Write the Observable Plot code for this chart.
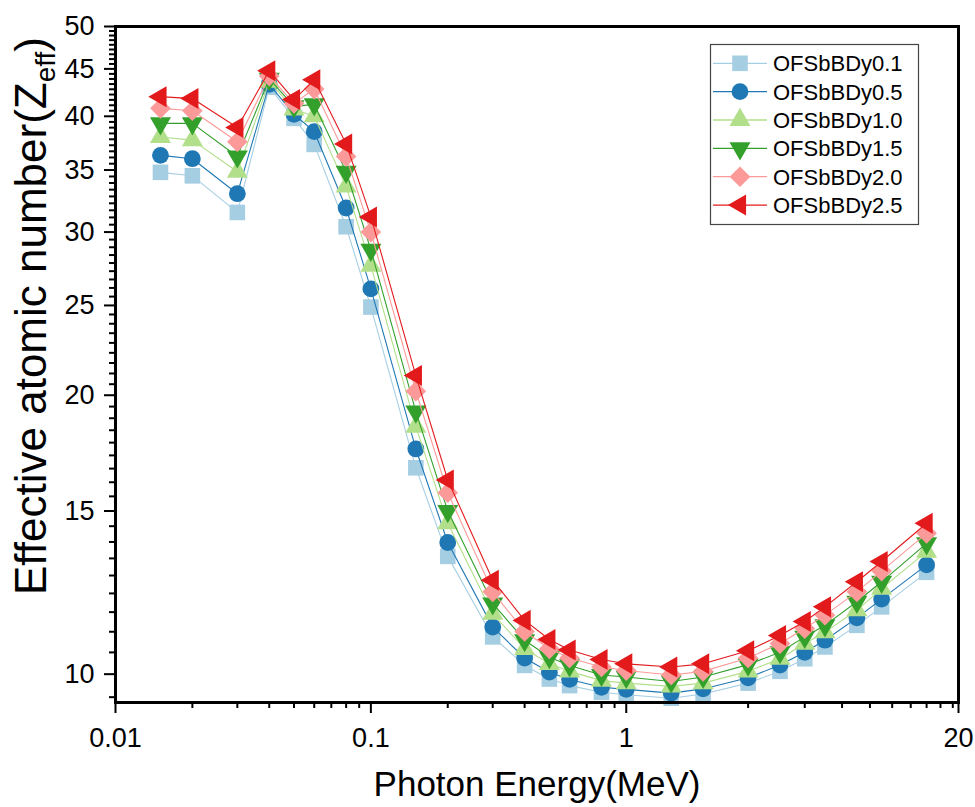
<!DOCTYPE html>
<html>
<head>
<meta charset="utf-8">
<script src="https://cdn.jsdelivr.net/npm/d3@7"></script>
<script src="https://cdn.jsdelivr.net/npm/@observablehq/plot@0.6"></script>
<style>
  html, body { margin: 0; padding: 0; background: #fff; }
  #chart { width: 975px; height: 807px; }
</style>
</head>
<body>
<div id="chart"></div>
<script>
// Photon energies (MeV)
const energies = [0.015, 0.02, 0.03, 0.04, 0.05, 0.06, 0.08, 0.1, 0.15, 0.2, 0.3, 0.4, 0.5, 0.6, 0.8, 1, 1.5, 2, 3, 4, 5, 6, 8, 10, 15];

// Effective atomic number for each glass
const zDy01 = [34.8, 34.5, 31.5, 43.0, 39.8, 37.3, 30.4, 24.9, 16.7, 13.4, 10.97, 10.22, 9.88, 9.72, 9.56, 9.50, 9.42, 9.52, 9.78, 10.07, 10.39, 10.70, 11.29, 11.82, 12.88];
const zDy05 = [36.3, 36.0, 33.0, 43.3, 40.2, 38.5, 31.85, 26.05, 17.5, 13.87, 11.24, 10.41, 10.05, 9.87, 9.68, 9.63, 9.54, 9.64, 9.91, 10.23, 10.56, 10.88, 11.5, 12.05, 13.12];
const zDy10 = [38.0, 37.7, 34.85, 43.6, 40.7, 40.0, 33.6, 27.6, 18.5, 14.55, 11.62, 10.65, 10.26, 10.07, 9.84, 9.78, 9.70, 9.78, 10.07, 10.39, 10.79, 11.1, 11.72, 12.37, 13.56];
const zDy15 = [39.3, 39.3, 36.2, 43.9, 41.0, 41.2, 34.85, 28.7, 19.2, 15.0, 11.92, 10.88, 10.43, 10.22, 9.98, 9.93, 9.82, 9.93, 10.24, 10.56, 10.97, 11.29, 11.97, 12.58, 13.84];
const zDy20 = [40.8, 40.55, 37.55, 44.2, 41.3, 42.8, 36.2, 30.0, 20.2, 15.7, 12.27, 11.12, 10.65, 10.41, 10.18, 10.09, 9.98, 10.07, 10.41, 10.79, 11.2, 11.58, 12.27, 12.92, 14.19];
const zDy25 = [42.0, 41.8, 38.9, 44.8, 41.7, 43.8, 37.35, 31.15, 21.0, 16.2, 12.63, 11.43, 10.9, 10.62, 10.37, 10.26, 10.18, 10.26, 10.6, 11.01, 11.40, 11.82, 12.58, 13.23, 14.55];

const seriesNames = ["OFSbBDy0.1", "OFSbBDy0.5", "OFSbBDy1.0", "OFSbBDy1.5", "OFSbBDy2.0", "OFSbBDy2.5"];
const seriesValues = [zDy01, zDy05, zDy10, zDy15, zDy20, zDy25];
const seriesColors = ["#a6cee3", "#1f78b4", "#b2df8a", "#33a02c", "#fb9a99", "#e31a1c"];
const seriesSymbols = ["square", "circle", "triangle", "triangle", "diamond2", "triangle"];
const seriesRotate = [0, 0, 0, 180, 0, -90];
const seriesR = [8.8, 8.4, 7.8, 7.8, 9.3, 7.8];

// Axis ticks
const xMajorTicks = [0.01, 0.1, 1, 20];
const xMinorTicks = [0.02, 0.03, 0.04, 0.05, 0.06, 0.07, 0.08, 0.09, 0.2, 0.3, 0.4, 0.5, 0.6, 0.7, 0.8, 0.9, 3, 5, 7, 9, 11, 13, 15, 17, 19];
const yMajorTicks = [10, 15, 20, 25, 30, 35, 40, 45, 50];
const yDomain = [9.32, 50];
const yMinorTicks = [];
for (let m = 5; m < 50; m += 5) {
  for (let k = 1; k <= 8; k++) {
    const v = m + k * 5 / 9;
    if (v >= yDomain[0] && v <= yDomain[1]) yMinorTicks.push(v);
  }
}

const rows = seriesNames.flatMap((name, i) =>
  energies.map((e, j) => ({series: name, energy: e, z: seriesValues[i][j]})));

const FONT = "'Liberation Sans', Arial, Helvetica, sans-serif";

const marks = [];
seriesNames.forEach((name, i) => {
  const d = rows.filter(r => r.series === name);
  marks.push(Plot.line(d, {x: "energy", y: "z", stroke: seriesColors[i], strokeWidth: 1.1}));
  marks.push(Plot.dot(d, {x: "energy", y: "z", symbol: seriesSymbols[i], r: seriesR[i], fill: seriesColors[i], stroke: "none", rotate: seriesRotate[i]}));
});

const svg = Plot.plot({
  width: 975,
  height: 807,
  marginLeft: 115,
  marginRight: 17,
  marginTop: 26,
  marginBottom: 105,
  style: {fontFamily: FONT, fontSize: "27px", background: "white", color: "black"},
  x: {type: "log", domain: [0.01, 20]},
  y: {type: "log", domain: yDomain},
  marks: [
    Plot.axisX(xMinorTicks, {tickSize: 6, strokeWidth: 2, text: null, label: null}),
    Plot.axisX(xMajorTicks, {tickSize: 11, tickPadding: 14, strokeWidth: 2, fontSize: 27, tickFormat: d => String(d), label: null}),
    Plot.axisY(yMinorTicks, {tickSize: 6, strokeWidth: 2, text: null, label: null}),
    Plot.axisY(yMajorTicks, {tickSize: 11, tickPadding: 10, strokeWidth: 2, fontSize: 27, tickFormat: d => String(d), label: null}),
    ...marks,
    Plot.frame({stroke: "black", strokeWidth: 3})
  ]
});

const root = d3.select(svg);

// Axis titles
root.append("text")
  .attr("x", 537).attr("y", 796)
  .attr("text-anchor", "middle")
  .attr("font-family", FONT).attr("font-size", 35).attr("fill", "black")
  .text("Photon Energy(MeV)");

const yt = root.append("text")
  .attr("transform", "translate(46,316) rotate(-90)")
  .attr("text-anchor", "middle")
  .attr("font-family", FONT).attr("font-size", 44).attr("fill", "black");
yt.append("tspan").text("Effective atomic number(Z");
yt.append("tspan").attr("font-size", 28).attr("dy", 9).text("eff");
yt.append("tspan").attr("dy", -9).text(")");

// Legend
const symMap = {square: d3.symbolSquare, circle: d3.symbolCircle, triangle: d3.symbolTriangle, diamond2: d3.symbolDiamond2};
const lg = root.append("g");
lg.append("rect").attr("x", 710.5).attr("y", 44.5).attr("width", 208).attr("height", 180)
  .attr("fill", "white").attr("stroke", "#444").attr("stroke-width", 1.2);
seriesNames.forEach((name, i) => {
  const cy = 63.3 + i * 28.35;
  lg.append("line").attr("x1", 713).attr("x2", 767).attr("y1", cy).attr("y2", cy)
    .attr("stroke", seriesColors[i]).attr("stroke-width", 1.3);
  lg.append("path")
    .attr("d", d3.symbol(symMap[seriesSymbols[i]], Math.PI * seriesR[i] * seriesR[i])())
    .attr("transform", `translate(740,${cy}) rotate(${seriesRotate[i]})`)
    .attr("fill", seriesColors[i]);
  lg.append("text").attr("x", 773).attr("y", cy).attr("dy", "0.36em")
    .attr("text-anchor", "start")
    .attr("font-family", FONT).attr("font-size", 22).attr("fill", "black")
    .text(name);
});

document.getElementById("chart").appendChild(svg);
</script>
</body>
</html>
